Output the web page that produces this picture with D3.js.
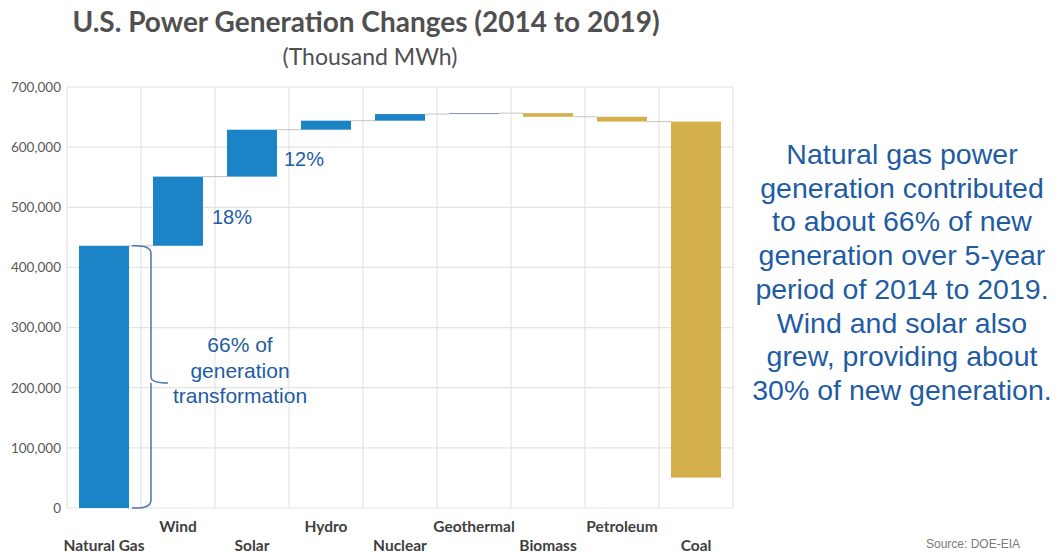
<!DOCTYPE html>
<html>
<head>
<meta charset="utf-8">
<script src="https://cdn.jsdelivr.net/npm/d3@7"></script>
<style>
  body { margin: 0; background: #fff; }
  svg { display: block; }
</style>
</head>
<body>
<svg class="chart" width="1057" height="554"></svg>
<script>
// categories and changes, thousand MWh (2014 -> 2019)
var categories = ['Natural Gas', 'Wind', 'Solar', 'Hydro', 'Nuclear', 'Geothermal', 'Biomass', 'Petroleum', 'Coal'];
var changes = [436000, 115000, 78000, 15000, 11000, 1500, -6000, -8000, -592000];
var yTicks = [0, 100000, 200000, 300000, 400000, 500000, 600000, 700000];
var pctLabels = [
  { idx: 1, text: '18%' },
  { idx: 2, text: '12%' }
];
var noteLines = [
  'Natural gas power',
  'generation contributed',
  'to about 66% of new',
  'generation over 5-year',
  'period of 2014 to 2019.',
  'Wind and solar also',
  'grew, providing about',
  '30% of new generation.'
];
var braceLines = ['66% of', 'generation', 'transformation'];

var blue = '#1a84c6', gold = '#d3b04b', textBlue = '#1f5ca3';

var margin = {top: 87, right: 324, bottom: 46, left: 67},
    width = 1057 - margin.left - margin.right,
    height = 554 - margin.top - margin.bottom;

// build running totals for the waterfall
var data = [];
var running = 0;
changes.forEach(function(v, i) {
  data.push({ name: categories[i], start: running, end: running + v, value: v, idx: i });
  running += v;
});

var svg = d3.select('.chart');

var chart = svg.append('g')
    .attr('transform', 'translate(' + margin.left + ',' + margin.top + ')');

var x = d3.scaleBand()
    .domain(categories)
    .range([0, width])
    .paddingInner(0)
    .paddingOuter(0);

var y = d3.scaleLinear()
    .domain([0, 700000])
    .range([height, 0]);

// grid
chart.append('g').selectAll('line.h')
    .data(yTicks)
  .enter().append('line')
    .attr('class', 'h')
    .attr('x1', 0).attr('x2', width)
    .attr('y1', function(d) { return y(d); })
    .attr('y2', function(d) { return y(d); })
    .attr('stroke', '#e4e4e4')
    .attr('stroke-width', 1.2);

var bounds = categories.map(function(c) { return x(c); }).concat([width]);
chart.append('g').selectAll('line.v')
    .data(bounds)
  .enter().append('line')
    .attr('class', 'v')
    .attr('x1', function(d) { return d; }).attr('x2', function(d) { return d; })
    .attr('y1', 0).attr('y2', height)
    .attr('stroke', '#e4e4e4')
    .attr('stroke-width', 1.2);

// y axis
var yAxis = d3.axisLeft(y)
    .tickValues(yTicks)
    .tickSize(0)
    .tickPadding(6)
    .tickFormat(d3.format(','));

chart.append('g')
    .attr('class', 'y axis')
    .call(yAxis)
    .call(function(g) { g.select('.domain').remove(); })
    .selectAll('text')
    .attr('fill', '#5a5a5a')
    .style('font-family', 'Lato, sans-serif')
    .style('font-size', '13.5px');

// x labels, staggered
var xAxis = d3.axisBottom(x).tickSize(0);
chart.append('g')
    .attr('class', 'x axis')
    .attr('transform', 'translate(0,' + height + ')')
    .call(xAxis)
    .call(function(g) { g.select('.domain').remove(); })
    .selectAll('text')
    .attr('y', function(d, i) { return i % 2 ? 24 : 43; })
    .attr('dy', 0)
    .attr('fill', '#3f3f3f')
    .style('font-family', 'Lato, sans-serif')
    .style('font-weight', 'bold')
    .style('font-size', '15.5px');

// connectors
var barW = 50;
var off = (x.bandwidth() - barW) / 2;
chart.append('g').selectAll('line.conn')
    .data(data.slice(0, -1))
  .enter().append('line')
    .attr('class', 'conn')
    .attr('x1', function(d) { return x(d.name) + off + barW; })
    .attr('x2', function(d) { return x(categories[d.idx + 1]) + off; })
    .attr('y1', function(d) { return y(d.end); })
    .attr('y2', function(d) { return y(d.end); })
    .attr('stroke', '#c4c4c4')
    .attr('stroke-width', 1);

// bars
chart.append('g').selectAll('rect.bar')
    .data(data)
  .enter().append('rect')
    .attr('class', 'bar')
    .attr('x', function(d) { return x(d.name) + off; })
    .attr('width', barW)
    .attr('y', function(d) { return y(Math.max(d.start, d.end)); })
    .attr('height', function(d) { return Math.abs(y(d.start) - y(d.end)); })
    .attr('fill', function(d) { return d.value >= 0 ? (d.name === 'Geothermal' ? '#6c84c4' : blue) : gold; });

// percent labels
chart.append('g').selectAll('text.pct')
    .data(pctLabels)
  .enter().append('text')
    .attr('class', 'pct')
    .attr('x', function(d) { return x(categories[d.idx]) + off + barW + (d.idx === 1 ? 9 : 7); })
    .attr('y', function(d) { var r = data[d.idx]; return y((r.start + r.end) / 2) + 13; })
    .attr('fill', textBlue)
    .style('font-family', '"Liberation Sans", Arial, sans-serif')
    .style('font-size', '20px')
    .text(function(d) { return d.text; });

// brace next to natural gas
var gas = data[0];
var bx = x(gas.name) + off + barW + 3;
var yTop = y(gas.end), yBot = y(gas.start), yMid = (yTop + yBot) / 2 + 6;
var p = d3.path();
p.moveTo(bx, yTop);
p.quadraticCurveTo(bx + 19, yTop - 1, bx + 19, yTop + 8);
p.lineTo(bx + 19, yMid - 6);
p.quadraticCurveTo(bx + 19, yMid, bx + 36, yMid);
p.moveTo(bx + 19, yMid + 0);
p.lineTo(bx + 19, yBot - 8);
p.quadraticCurveTo(bx + 19, yBot + 1, bx, yBot);
chart.append('path')
    .attr('d', p.toString())
    .attr('fill', 'none')
    .attr('stroke', '#4a76b0')
    .attr('stroke-width', 1.5);

chart.append('text')
    .attr('x', 240 - margin.left)
    .attr('y', 352 - margin.top)
    .attr('text-anchor', 'middle')
    .attr('fill', textBlue)
    .style('font-family', '"Liberation Sans", Arial, sans-serif')
    .style('font-size', '21px')
  .selectAll('tspan')
    .data(braceLines)
  .enter().append('tspan')
    .attr('x', 240 - margin.left)
    .attr('dy', function(d, i) { return i ? 25.5 : 0; })
    .text(function(d) { return d; });

// title
svg.append('text')
    .attr('x', 366).attr('y', 32)
    .attr('text-anchor', 'middle')
    .attr('fill', '#505050')
    .style('font-family', 'Lato, sans-serif')
    .style('font-weight', 'bold')
    .style('font-size', '28px')
    .text('U.S. Power Generation Changes (2014 to 2019)');

svg.append('text')
    .attr('x', 370).attr('y', 65)
    .attr('text-anchor', 'middle')
    .attr('fill', '#505050')
    .style('font-family', 'Lato, sans-serif')
    .style('font-size', '23px')
    .text('(Thousand MWh)');

// side note
svg.append('text')
    .attr('x', 902).attr('y', 164)
    .attr('text-anchor', 'middle')
    .attr('fill', textBlue)
    .style('font-family', '"Liberation Sans", Arial, sans-serif')
    .style('font-size', '28.5px')
  .selectAll('tspan')
    .data(noteLines)
  .enter().append('tspan')
    .attr('x', 902)
    .attr('dy', function(d, i) { return i ? 33.7 : 0; })
    .text(function(d) { return d; });

svg.append('text')
    .attr('x', 1020).attr('y', 548)
    .attr('text-anchor', 'end')
    .attr('fill', '#7a7a7a')
    .style('font-family', '"Liberation Sans", Arial, sans-serif')
    .style('font-size', '12px')
    .text('Source: DOE-EIA');
</script>
</body>
</html>
